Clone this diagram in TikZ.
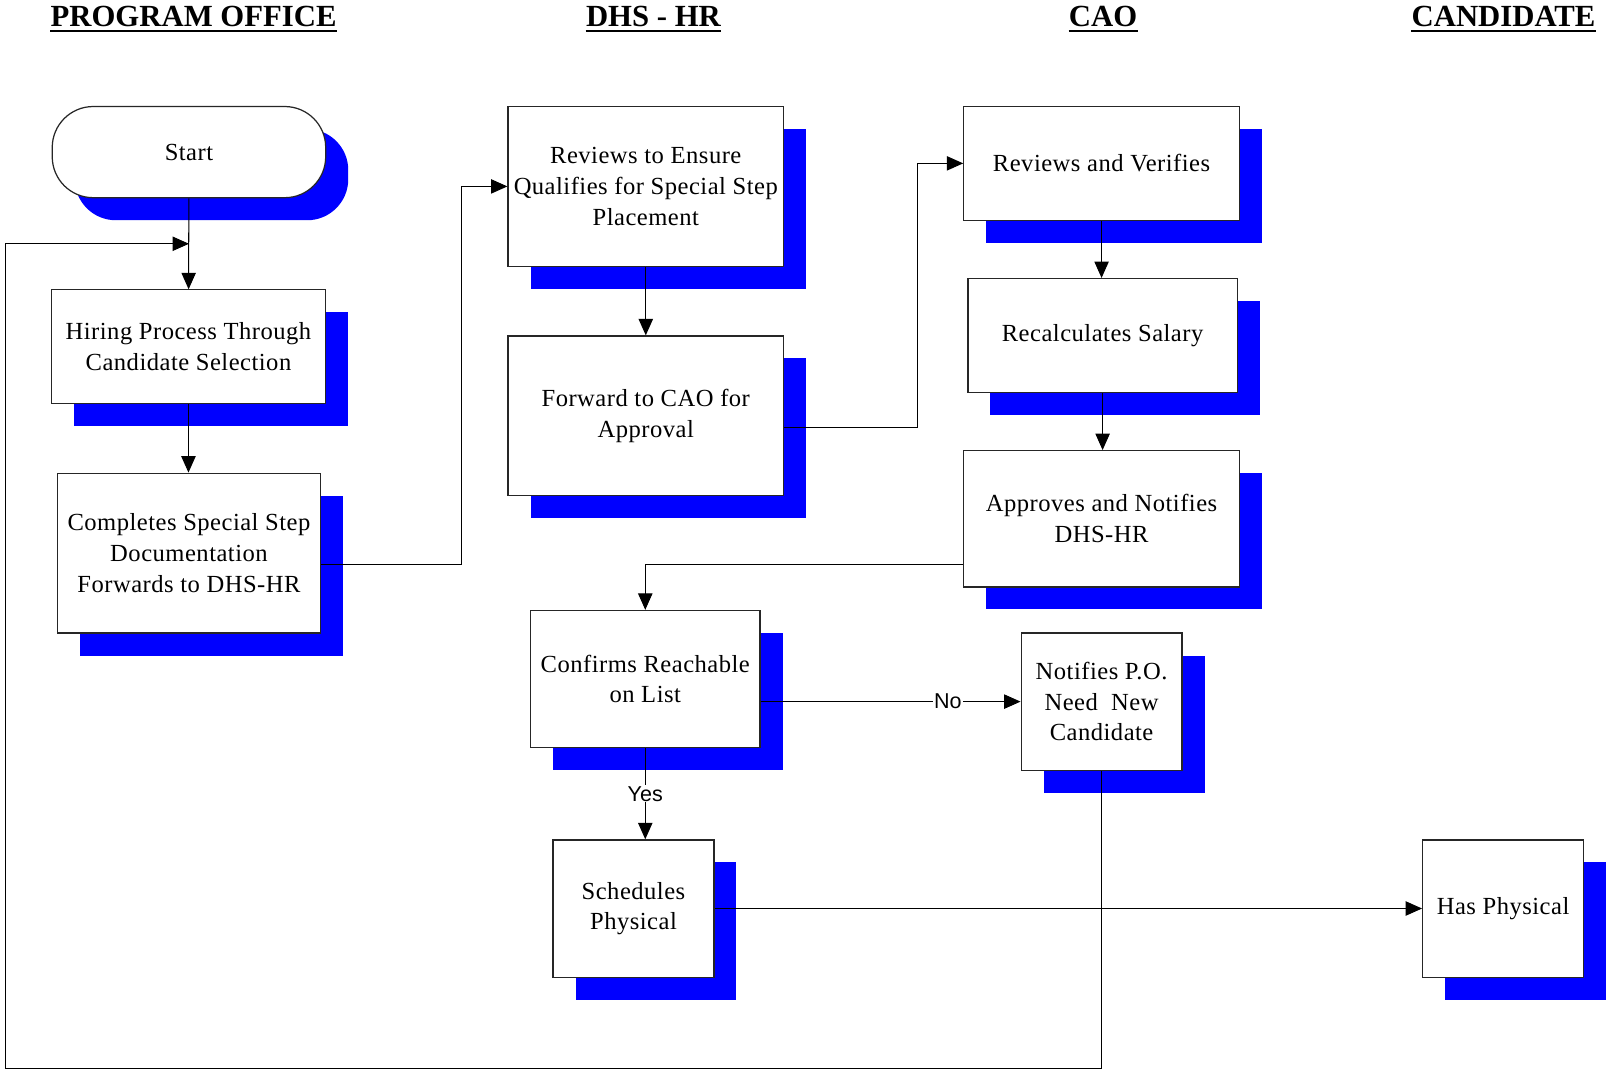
\documentclass[tikz,border=0pt]{standalone}
\usepackage{fontspec}
\setmainfont{Liberation Serif}
\newfontfamily\boxfont[LetterSpace=2]{Liberation Serif}
\newfontfamily\labelfont{Liberation Sans}
\usetikzlibrary{arrows.meta,shadows}

\tikzset{
    stepbox/.style={draw=black!85, fill=white, line width=0.6pt, align=center,
        inner sep=1pt, font=\boxfont\fontsize{12}{15}\selectfont,
        drop shadow={shadow xshift=11pt, shadow yshift=-11pt, fill=blue, opacity=1}},
    startbox/.style={stepbox, rounded corners=20pt},
    link/.style={-{Triangle[length=8pt,width=7pt]}, line width=0.5pt},
    lanehead/.style={anchor=base, inner sep=0pt, font=\fontsize{15}{18}\selectfont\bfseries},
    answer/.style={fill=white, inner sep=0.5pt, font=\labelfont\fontsize{10.5}{12}\selectfont},
}

\begin{document}
\begin{tikzpicture}[x=0.5pt, y=-0.5pt]
    \useasboundingbox (0,0) rectangle (1568,1045);

    % Lane headings
    \node[lanehead] (headPO) at (189,26) {PROGRAM OFFICE};
    \node[lanehead] (headHR) at (638,26) {DHS - HR};
    \node[lanehead] (headCAO) at (1077,26) {CAO};
    \node[lanehead] (headCand) at (1468,26) {CANDIDATE};
    \foreach \h in {headPO, headHR, headCAO, headCand}
        \draw[line width=1pt] ([yshift=-2pt]\h.base west) -- ([yshift=-2pt]\h.base east);

    % Program office
    \node[startbox, minimum width=133.5pt, minimum height=44.5pt] (start) at (184.5,148.5) {Start};
    \node[stepbox, minimum width=134pt, minimum height=55.5pt] (hire) at (184,338.5)
        {Hiring Process Through\\Candidate Selection};
    \node[stepbox, minimum width=128.5pt, minimum height=78pt] (docs) at (184.5,540)
        {Completes Special Step\\Documentation\\Forwards to DHS-HR};

    % DHS - HR
    \node[stepbox, minimum width=134.5pt, minimum height=78pt] (ensure) at (630.5,182)
        {Reviews to Ensure\\Qualifies for Special Step\\Placement};
    \node[stepbox, minimum width=134.5pt, minimum height=78pt] (forward) at (630.5,406)
        {Forward to CAO for\\Approval};
    \node[stepbox, minimum width=112pt, minimum height=67pt] (confirm) at (630,663)
        {Confirms Reachable\\on List};
    \node[stepbox, minimum width=78.5pt, minimum height=67pt] (physical) at (618.5,887)
        {Schedules\\Physical};

    % CAO
    \node[stepbox, minimum width=134.5pt, minimum height=55.5pt] (verify) at (1075.5,159.5)
        {Reviews and Verifies};
    \node[stepbox, minimum width=131.5pt, minimum height=55.5pt] (salary) at (1076.5,327.5)
        {Recalculates Salary};
    \node[stepbox, minimum width=134.5pt, minimum height=66.5pt] (approve) at (1075.5,506.5)
        {Approves and Notifies\\DHS-HR};
    \node[stepbox, minimum width=78.5pt, minimum height=67pt] (notify) at (1075.5,685)
        {Notifies P.O.\\Need~~New\\Candidate};

    % Candidate
    \node[stepbox, minimum width=78.5pt, minimum height=67pt] (hasphys) at (1467.5,887)
        {Has Physical};

    % Bends
    \coordinate (bendA) at (451,551);
    \coordinate (bendB) at (896,417);
    \coordinate (bendC) at (630,551);
    \coordinate (loopA) at (5,1043);
    \coordinate (loopEnd) at (184.5,238);

    % Connectors
    \draw[link] (start) -- (hire);
    \draw[link] (hire.south) -- (hire.south |- docs.north);
    \draw[link] (docs.east |- bendA) -- (bendA) |- (ensure.west);
    \draw[link] (ensure) -- (forward);
    \draw[link] (forward.east |- bendB) -- (bendB) |- (verify.west);
    \draw[link] (verify.south) -- (verify.south |- salary.north);
    \draw[link] (salary.south) -- (salary.south |- approve.north);
    \draw[link] (approve.west |- bendC) -| (confirm.north);
    \draw[link] (confirm.east |- notify.west) -- node[answer, pos=0.72] {No} (notify.west);
    \draw[link] (confirm.south) -- node[answer] {Yes} (confirm.south |- physical.north);
    \draw[link] (physical.east) -- (hasphys.west);
    \draw[link] (notify.south) |- (loopA) |- (loopEnd);
\end{tikzpicture}
\end{document}
